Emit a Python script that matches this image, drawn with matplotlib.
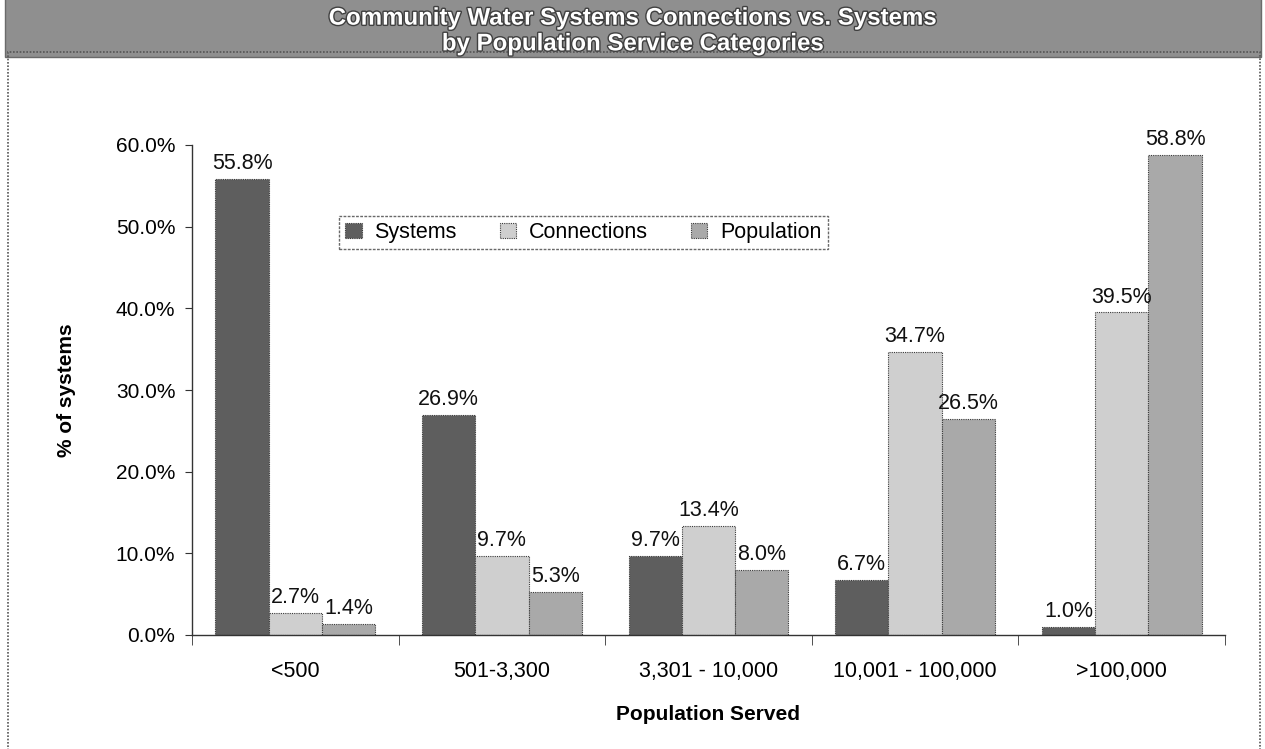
import matplotlib
matplotlib.use('Agg')
import matplotlib.pyplot as plt
import matplotlib.patheffects as pe
import numpy as np
from matplotlib.patches import Rectangle

categories = ['<500', '501-3,300', '3,301 - 10,000', '10,001 - 100,000', '>100,000']
systems = [55.8, 26.9, 9.7, 6.7, 1.0]
connections = [2.7, 9.7, 13.4, 34.7, 39.5]
population = [1.4, 5.3, 8.0, 26.5, 58.8]
series_names = ['Systems', 'Connections', 'Population']
yticks = [0, 10, 20, 30, 40, 50, 60]

plt.rcParams['font.family'] = ['Liberation Sans', 'DejaVu Sans']

fig = plt.figure(figsize=(12.65, 7.49), dpi=100)

# grey title band across the top with outlined white lettering
band = Rectangle((0.004, 1 - 57 / 749.), 0.993, 57 / 749. + 0.01, transform=fig.transFigure,
                 facecolor='#8f8f8f', edgecolor='#6a6a6a', lw=1, zorder=0)
fig.patches.append(band)
border = Rectangle((0.006, -0.01), 0.99, 0.94, transform=fig.transFigure,
                   facecolor='none', edgecolor='#555555', lw=1.2, linestyle=(0, (1, 1)), zorder=0)
fig.patches.append(border)
fig.text(0.5, 1 - 31 / 749., 'Community Water Systems Connections vs. Systems\nby Population Service Categories',
         ha='center', va='center', fontsize=17.3, fontweight='bold', color='white',
         linespacing=1.15, path_effects=[pe.withStroke(linewidth=2, foreground='#404040')])

ax = fig.add_axes([192 / 1265., 1 - 635 / 749., (1225 - 192) / 1265., (635 - 145) / 749.])

x = np.arange(len(categories))
w = 0.258
colors = ['#5e5e5e', '#cfcfcf', '#a9a9a9']
for i, (vals, c) in enumerate(zip([systems, connections, population], colors)):
    bars = ax.bar(x + (i - 1) * w, vals, w, color=c, edgecolor='#3a3a3a', lw=0.8,
                  linestyle=(0, (1, 1)), label=series_names[i], zorder=2)
    for b, v in zip(bars, vals):
        ax.text(b.get_x() + b.get_width() / 2, v + 0.6, '%.1f%%' % v,
                ha='center', va='bottom', fontsize=15.5, color='#111111')

ax.set_xlim(-0.5, len(categories) - 0.5)
ax.set_ylim(0, 60)
ax.set_yticks(yticks)
ax.set_yticklabels(['%.1f%%' % t for t in yticks], fontsize=15)
ax.set_xticks(x)
ax.set_xticklabels(categories, fontsize=15.5)
ax.set_xticks(np.arange(len(categories) + 1) - 0.5, minor=True)
ax.tick_params(axis='x', which='major', length=0, pad=19)
ax.tick_params(axis='x', which='minor', length=7, direction='out', color='#333333')
ax.tick_params(axis='y', length=5, color='#333333', pad=7)
for s in ['top', 'right']:
    ax.spines[s].set_visible(False)
for s in ['left', 'bottom']:
    ax.spines[s].set_color('#333333')
    ax.spines[s].set_linewidth(1)

ax.set_ylabel('% of systems', fontsize=15, fontweight='bold', labelpad=29)
ax.set_xlabel('Population Served', fontsize=15, fontweight='bold', labelpad=16)

lgd = ax.legend(loc='center', bbox_to_anchor=(0.379, 0.8215), ncol=3, fontsize=15.5,
                frameon=True, fancybox=False, handlelength=0.75, handleheight=0.75,
                borderpad=0.3, columnspacing=2.0, handletextpad=0.6)
lgd.get_frame().set_edgecolor('#444444')
lgd.get_frame().set_linestyle((0, (2, 1)))
lgd.get_frame().set_linewidth(1)

fig.savefig('out.png', dpi=100)
plt.close()
